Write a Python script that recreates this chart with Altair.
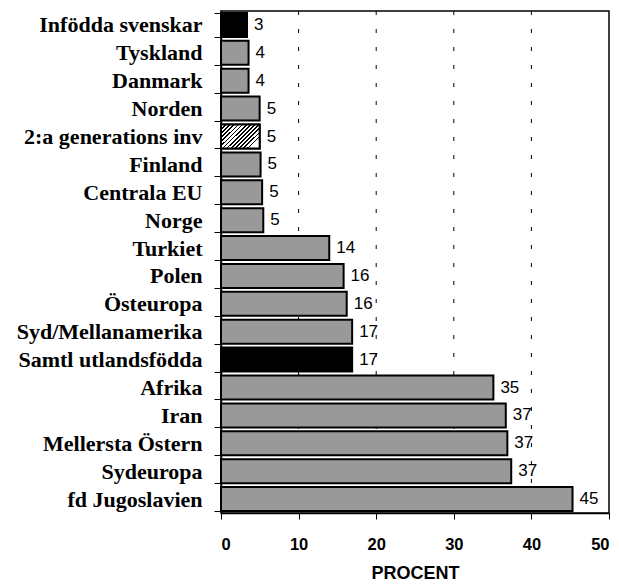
import altair as alt
import pandas as pd

categories = ["Infödda svenskar", "Tyskland", "Danmark", "Norden", "2:a generations inv",
              "Finland\u00a0", "Centrala EU", "Norge", "Turkiet", "Polen", "Östeuropa",
              "Syd/Mellanamerika", "Samtl utlandsfödda", "Afrika", "Iran",
              "Mellersta Östern", "Sydeuropa", "fd Jugoslavien"]
values = [3.35, 3.55, 3.55, 4.98, 4.98, 5.1, 5.3, 5.45, 13.95, 15.8, 16.2, 16.9,
          16.9, 35.1, 36.7, 36.9, 37.4, 45.3]
labels = ["3", "4", "4", "5", "5", "5", "5", "5", "14", "16", "16", "17", "17",
          "35", "37", "37", "37", "45"]
kinds = ["black", "gray", "gray", "gray", "hatch", "gray", "gray", "gray", "gray",
         "gray", "gray", "gray", "black", "gray", "gray", "gray", "gray", "gray"]

df = pd.DataFrame({"cat": categories, "val": values, "lab": labels, "kind": kinds})

# hatch gradient stops
n = 13
stops = []
for i in range(n):
    a = i / n
    b = (i + 0.42) / n
    c = (i + 1) / n
    stops += [alt.GradientStop(offset=a, color="black"),
              alt.GradientStop(offset=b, color="black"),
              alt.GradientStop(offset=b, color="white"),
              alt.GradientStop(offset=c, color="white")]
hatch = alt.LinearGradient(gradient="linear", stops=stops, x1=0, y1=0, x2=1, y2=0.63)

y_enc = alt.Y("cat:N", sort=categories,
              scale=alt.Scale(paddingInner=0.14, paddingOuter=0.07),
              axis=alt.Axis(title=None, labelFont="Liberation Serif", labelFontWeight="bold",
                            labelFontSize=22, labelColor="black", labelPadding=12,
                            tickBand="extent", tickSize=7, tickColor="black",
                            domainColor="black", domainWidth=1.5, labelLimit=300))
x_enc = alt.X("val:Q", scale=alt.Scale(domain=[0, 50], nice=False),
              axis=alt.Axis(title="PROCENT", values=[0, 10, 20, 30, 40, 50],
                            titleFont="Liberation Sans", titleFontSize=18,
                            titleFontWeight="bold", titleColor="black", titlePadding=12,
                            labelFont="Liberation Sans", labelFontSize=16.5,
                            labelFontWeight="bold", labelColor="black", labelPadding=17,
                            tickSize=6, tickColor="black", domainColor="black",
                            domainWidth=1.5, grid=False))

base = alt.Chart(df)

grid = alt.Chart(pd.DataFrame({"g": [10, 20, 30, 40]})).mark_rule(
    color="black", strokeWidth=1, strokeDash=[4, 14]
).encode(x=alt.X("g:Q", scale=alt.Scale(domain=[0, 50], nice=False)))

bars = base.mark_bar(stroke="black", strokeWidth=2).encode(
    y=y_enc, x=x_enc,
    color=alt.Color("kind:N", scale=alt.Scale(domain=["black", "gray", "hatch"],
                                              range=["black", "#999999", "white"]),
                    legend=None))

hatched = base.transform_filter(alt.datum.kind == "hatch").mark_bar(
    fill=hatch, stroke="black", strokeWidth=2).encode(y=y_enc, x=x_enc)

text = base.mark_text(align="left", baseline="middle", dx=7, font="Liberation Sans",
                      fontSize=17, color="black").encode(
    y=y_enc, x=x_enc, text="lab:N")

chart = alt.layer(grid, bars, hatched, text).properties(
    width=388, height=502,
    autosize=alt.AutoSizeParams(type="none"),
    padding={"left": 213, "top": 3, "right": 2, "bottom": 70}
).configure_view(stroke="black", strokeWidth=1.5)

chart.save("out.html", embed_options={"renderer": "svg", "actions": False})
